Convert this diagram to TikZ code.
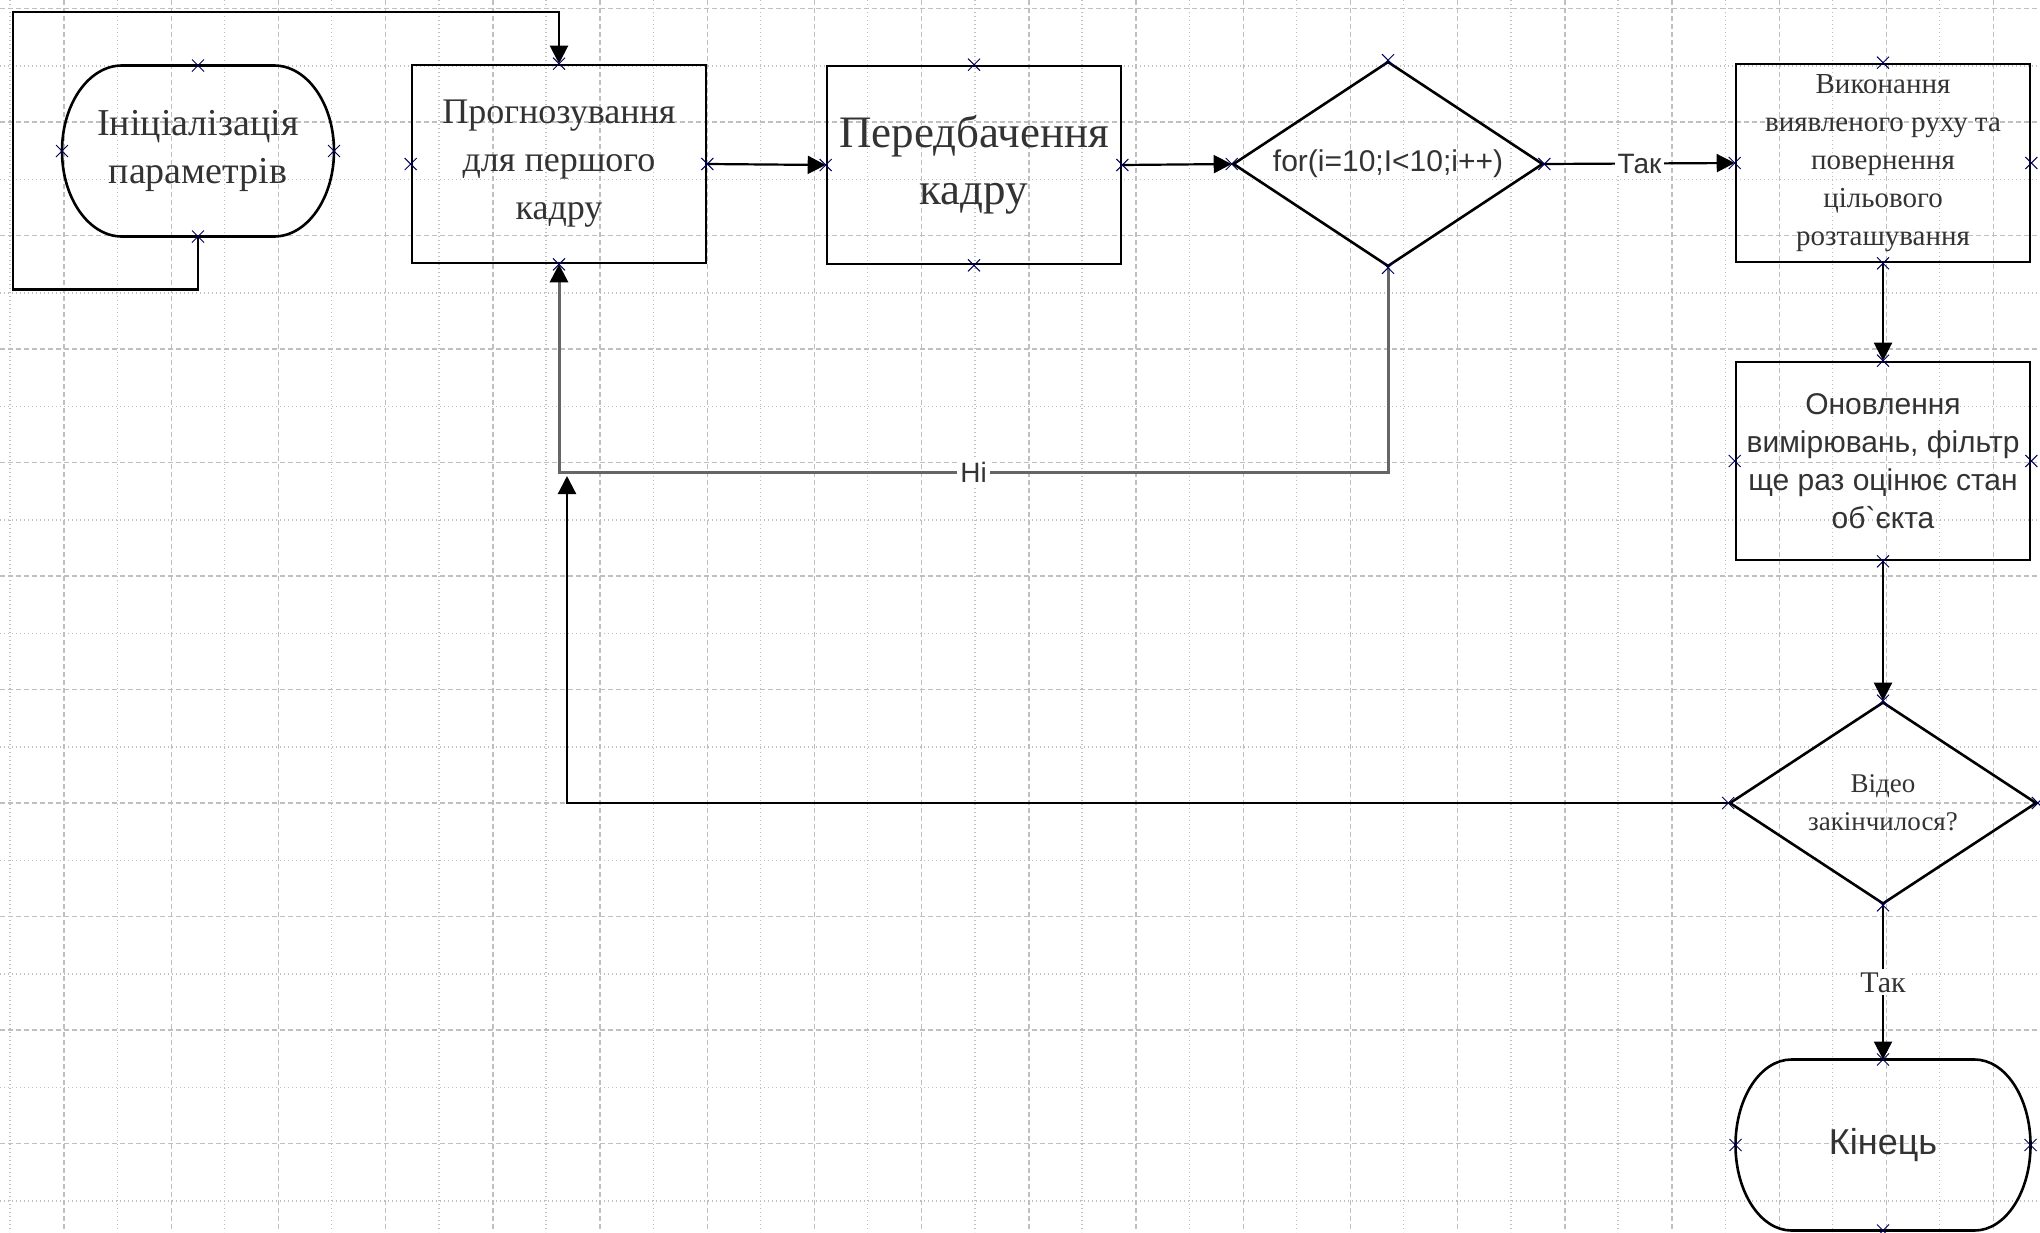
\documentclass[tikz,border=0pt]{standalone}
\usepackage{fontspec}
\setmainfont{Liberation Serif}
\setsansfont{Liberation Sans}
\usetikzlibrary{shapes.geometric,arrows.meta}

\tikzset{
  gridmajor/.style={draw=gray!50,line width=0.7pt,dash pattern=on 2.5pt off 1.5pt},
  gridminor/.style={draw=gray!50,line width=0.7pt,dash pattern=on 0.7pt off 1.3pt},
  block/.style={rectangle,draw,line width=1.3pt,minimum width=147pt,minimum height=99pt,
    align=center,inner sep=2pt,text=black!80},
  term/.style={rectangle,outer sep=0pt,minimum width=136pt,minimum height=85.5pt,
    align=center,text=black!80},
  decision/.style={diamond,draw,line width=1.3pt,aspect=1.5,minimum width=155pt,
    minimum height=102.5pt,inner sep=0pt,align=center,text=black!80},
  flow/.style={line width=1.1pt,-{Triangle[length=9pt,width=9pt,color=black]}},
  conn/.style={draw=blue!35!black,line width=0.5pt},
  lbl/.style={fill=white,inner sep=1.5pt,font=\sffamily\fontsize{14}{16}\selectfont,text=black!80},
}
% outline of a terminal block with elliptic ends
\newcommand{\termoutline}[2]{%
  \draw[line width=1.3pt] ([xshift=#2]#1.north west) -- ([xshift=-#2]#1.north east)
    arc[start angle=90,end angle=-90,x radius=#2,y radius=42.75pt]
    -- ([xshift=#2]#1.south west)
    arc[start angle=270,end angle=90,x radius=#2,y radius=42.75pt] -- cycle;}

\begin{document}
\begin{tikzpicture}[x=0.5pt,y=-0.5pt]
  \useasboundingbox[fill=white] (0,0) rectangle (2040,1232);
  \begin{scope}
    \clip (0,0) rectangle (2040,1232);
    \foreach \i in {0,...,18} {
      \draw[gridminor] ({10+107.2*\i},0) -- ++(0,1232);
      \draw[gridmajor] ({64+107.2*\i},0) -- ++(0,1232);
    }
    \foreach \j in {0,...,10} {
      \draw[gridmajor] (0,{8.5+113.5*\j}) -- ++(2040,0);
      \draw[gridminor] (0,{66+113.5*\j}) -- ++(2040,0);
    }
  \end{scope}

  \node[term,font=\fontsize{19}{24}\selectfont] (init) at (198,151) {Ініціалізація\\параметрів};
  \termoutline{init}{30pt}
  \node[block,font=\fontsize{18}{24}\selectfont] (prog) at (559,164) {Прогнозування\\для першого\\кадру};
  \node[block,font=\fontsize{22.5}{28.5}\selectfont] (pred) at (974,165) {Передбачення\\кадру};
  \node[decision,font=\sffamily\fontsize{15}{18}\selectfont] (loop) at (1388,164) {for(i=10;I<10;i++)};
  \node[block,font=\fontsize{14.5}{19}\selectfont] (exec) at (1883,163)
    {Виконання\\виявленого руху та\\повернення\\цільового\\розташування};
  \node[block,font=\sffamily\fontsize{15}{19}\selectfont] (upd) at (1883,461)
    {Оновлення\\вимірювань, фільтр\\ще раз оцінює стан\\об\textasciigrave єкта};
  \node[decision,minimum width=153.5pt,minimum height=101pt,text width=90pt,
    font=\fontsize{13.5}{19}\selectfont] (vid) at (1883,803) {Відео\\закінчилося?};
  \node[term,minimum width=147.5pt,font=\sffamily\fontsize{18}{22}\selectfont] (kin) at (1883,1145) {Кінець};
  \termoutline{kin}{28pt}

  \coordinate (merge) at (567,476);

  \draw[flow] (init.south) -- ++(0,53) -| (13,12) -| (prog.north);
  \draw[flow] (prog.east) -- (pred.west);
  \draw[flow] (pred.east) -- (loop.west);
  \draw[flow] (loop.east) -- node[lbl] {Так} (exec.west);
  \draw[flow] (exec.south) -- (upd.north);
  \draw[flow] (upd.south) -- (vid.north);
  \draw[flow] (vid.south) -- node[lbl,font=\fontsize{15}{17}\selectfont] {Так} (kin.north);
  \draw[flow,draw=black!60,line width=1.5pt] (loop.south) -- (loop.south |- 0,472)
    -- node[lbl] {Ні} (prog.south |- 0,472) -- (prog.south);
  \draw[flow] (vid.west) -| (merge);

  % connection points
  \foreach \n in {init,prog,pred,loop,exec,upd,vid,kin}
    \foreach \a in {north,south,east,west}
      \draw[conn] (\n.\a) +(-3pt,-3pt) -- +(3pt,3pt) +(-3pt,3pt) -- +(3pt,-3pt);
\end{tikzpicture}
\end{document}
